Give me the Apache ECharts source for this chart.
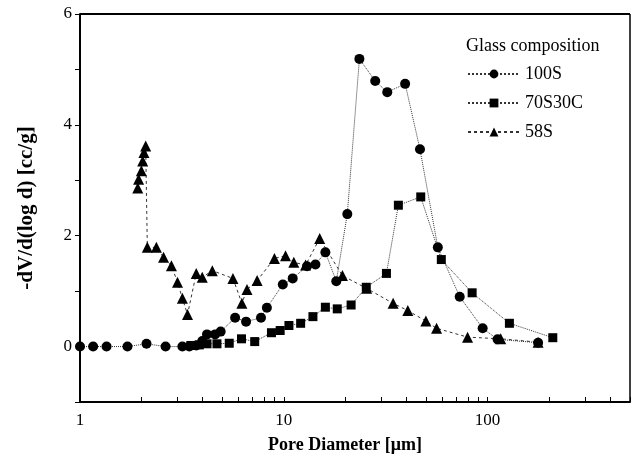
<!DOCTYPE html>
<html>
<head>
<meta charset="utf-8">
<script src="https://cdn.jsdelivr.net/npm/echarts@6/dist/echarts.min.js"></script>
<style>
  html, body { margin: 0; padding: 0; background: #fff; }
  #chart { width: 635px; height: 461px; }
</style>
</head>
<body>
<div id="chart"></div>
<script>
// pore diameter (um) and -dV/d(log d) (cc/g)
var names = ['100S', '70S30C', '58S'];

var d100 = [1.0, 1.16, 1.35, 1.71, 2.12, 2.63, 3.18, 3.44, 3.72, 3.98, 4.2, 4.6, 4.9, 5.77, 6.53, 7.73, 8.26, 9.89, 11.06, 13.0, 14.3, 16.0, 18.1, 20.5, 23.5, 28.1, 32.2, 39.4, 46.6, 57.0, 73.0, 94.6, 112, 177];
var v100 = [0, 0, 0, 0, 0.05, 0, 0, 0, 0.02, 0.1, 0.22, 0.22, 0.27, 0.52, 0.45, 0.52, 0.7, 1.12, 1.23, 1.45, 1.48, 1.70, 1.18, 2.39, 5.19, 4.79, 4.59, 4.74, 3.56, 1.79, 0.90, 0.33, 0.13, 0.07];

var d70 = [3.5, 3.85, 4.2, 4.7, 5.4, 6.2, 7.2, 8.7, 9.6, 10.6, 12.1, 13.9, 16.0, 18.3, 21.4, 25.4, 31.9, 36.5, 47, 59.3, 84, 128, 209];
var v70 = [0.02, 0.03, 0.05, 0.05, 0.06, 0.14, 0.09, 0.25, 0.29, 0.38, 0.42, 0.54, 0.71, 0.68, 0.75, 1.07, 1.32, 2.55, 2.70, 1.57, 0.97, 0.42, 0.16];

var d58 = [1.92, 1.94, 2.0, 2.03, 2.06, 2.1, 2.14, 2.37, 2.57, 2.81, 3.01, 3.18, 3.37, 3.72, 3.98, 4.46, 5.63, 6.23, 6.6, 7.4, 9.0, 10.2, 11.2, 12.8, 15.0, 19.4, 25.5, 34.4, 40.6, 49.8, 56.2, 79.8, 116, 177];
var v58 = [2.86, 3.02, 3.17, 3.35, 3.5, 3.62, 1.79, 1.79, 1.61, 1.46, 1.16, 0.87, 0.58, 1.32, 1.25, 1.37, 1.23, 0.78, 1.03, 1.19, 1.59, 1.64, 1.52, 1.47, 1.95, 1.28, 1.05, 0.78, 0.65, 0.46, 0.33, 0.17, 0.14, 0.08];

var xTicks = [1, 2, 3, 4, 5, 6, 7, 8, 9, 10, 20, 30, 40, 50, 60, 70, 80, 90, 100, 200, 300, 400, 500];
var xLabels = [1, 10, 100];

function pairs(xs, ys) {
  var out = [];
  for (var i = 0; i < xs.length; i++) out.push([xs[i], ys[i]]);
  return out;
}

var font = 'Liberation Serif';
var xMax = 500;
var chart = echarts.init(document.getElementById('chart'));

function mkSeries(name, data, symbol, size, lineType) {
  return {
    name: name,
    type: 'line',
    xAxisIndex: 0,
    data: data,
    symbol: symbol,
    symbolSize: size,
    showSymbol: true,
    itemStyle: { color: '#000' },
    lineStyle: { color: '#333', width: 1, type: lineType },
    animation: false
  };
}

var option = {
  animation: false,
  title: {
    text: 'Glass composition',
    left: 461,
    top: 32,
    textStyle: { fontFamily: font, fontSize: 18, fontWeight: 'normal', color: '#000' }
  },
  legend: {
    orient: 'vertical',
    left: 462,
    top: 60,
    itemWidth: 52,
    itemHeight: 11,
    itemGap: 11,
    data: names,
    textStyle: { fontFamily: font, fontSize: 18, color: '#000' }
  },
  grid: { left: 80, right: 5, top: 14, bottom: 59 },
  xAxis: [{
    type: 'log',
    logBase: 10,
    min: 1,
    max: xMax,
    name: 'Pore Diameter [\u03bcm]',
    nameLocation: 'middle',
    nameGap: 34,
    nameTextStyle: { fontFamily: font, fontSize: 18, fontWeight: 'bold', color: '#000', padding: [0, 20, 0, 0] },
    axisLine: { onZero: false, lineStyle: { color: '#000', width: 2 } },
    axisTick: { show: false },
    axisLabel: { customValues: xLabels, fontFamily: font, fontSize: 17, color: '#000', margin: 10 },
    splitLine: { show: false }
  }, {
    // overlay axis only for the 2..9 tick marks of each decade
    type: 'value',
    position: 'bottom',
    min: 0,
    max: Math.log10(xMax),
    axisLine: { show: false, onZero: false },
    axisLabel: { show: false },
    axisTick: { show: true, inside: true, length: 5, customValues: xTicks.map(Math.log10), lineStyle: { color: '#000' } },
    splitLine: { show: false }
  }],
  yAxis: {
    type: 'value',
    min: -1,
    max: 6,
    interval: 1,
    name: '-dV/d(log d) [cc/g]',
    nameLocation: 'middle',
    nameGap: 43,
    nameTextStyle: { fontFamily: font, fontSize: 21, fontWeight: 'bold', color: '#000' },
    axisLine: { lineStyle: { color: '#000', width: 2 } },
    axisTick: { length: 5, lineStyle: { color: '#000' } },
    axisLabel: {
      fontFamily: font, fontSize: 17, color: '#000', margin: 8,
      formatter: function (v) { return (v >= 0 && v % 2 === 0) ? String(v) : ''; }
    },
    splitLine: { show: false }
  },
  series: [
    mkSeries(names[0], pairs(d100, v100), 'circle', 10, 'dotted'),
    mkSeries(names[1], pairs(d70, v70), 'rect', 9, 'dotted'),
    mkSeries(names[2], pairs(d58, v58), 'triangle', 11, [3, 3])
  ],
  graphic: [
    { type: 'line', silent: true, shape: { x1: 80, y1: 14, x2: 630, y2: 14 }, style: { stroke: '#000', lineWidth: 2 } },
    { type: 'line', silent: true, shape: { x1: 630, y1: 14, x2: 630, y2: 402 }, style: { stroke: '#000', lineWidth: 1.5 } }
  ]
};

chart.setOption(option);
</script>
</body>
</html>
